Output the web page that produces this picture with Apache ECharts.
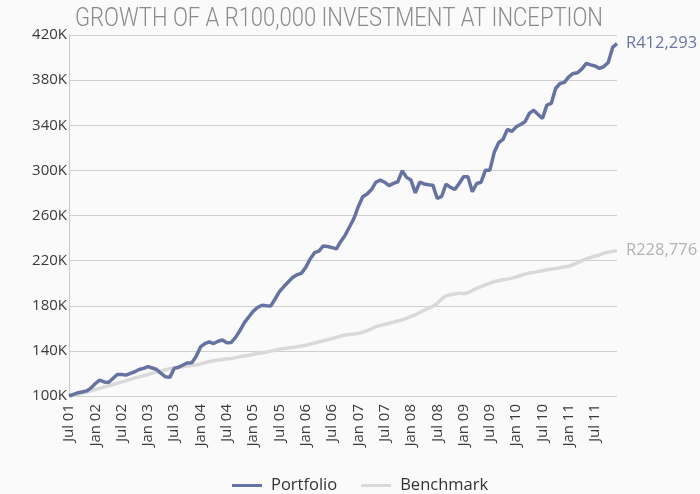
<!DOCTYPE html>
<html>
<head>
<meta charset="utf-8">
<script src="https://cdn.jsdelivr.net/npm/echarts@6/dist/echarts.min.js"></script>
<style>
  html, body { margin: 0; padding: 0; background: #fafafa; }
  #chart { width: 700px; height: 494px; }
</style>
</head>
<body>
<div id="chart"></div>
<script>
// Monthly values of a R100,000 investment, in thousands of Rand (Jul 2001 - Dec 2011)
const startYear = 2001;
const startMonth = 6; // July (0-based)
const monthNames = ['Jan', 'Feb', 'Mar', 'Apr', 'May', 'Jun', 'Jul', 'Aug', 'Sep', 'Oct', 'Nov', 'Dec'];

const portfolio = [
  100, 101.5, 102.8, 103.5, 104.5, 107, 111, 114, 112.5, 112,
  115.5, 119, 119, 118.5, 120, 121.5, 123.5, 124.5, 126, 124.8,
  123.5, 120, 117, 116.5, 124.5, 125.5, 127.5, 129.3, 129.5, 135,
  143.5, 146.5, 148, 146.5, 148.5, 149.6, 147.2, 147.5, 152, 158,
  165, 170, 175, 178.5, 180.5, 180, 179.7, 186, 192.5, 197,
  201, 205, 207.5, 208.7, 214, 221.5, 227, 228.5, 233, 232.5,
  231.5, 230.5, 237, 242.6, 250, 257.4, 268, 276.6, 279, 283,
  289.5, 291.4, 289.5, 286.5, 288.5, 289.9, 299.6, 293.8, 291.4, 280.1,
  289.5, 288, 287.2, 286.9, 275.1, 277, 287.8, 285, 283.1, 288.4,
  294.3, 294.3, 281, 288.4, 289.5, 300.2, 300.2, 316, 324.5, 327.4,
  336.3, 334.5, 338.6, 340.7, 343, 350.5, 353.4, 349.6, 346, 357.8,
  359.3, 372.6, 377, 378, 382.9, 385.9, 386.5, 390, 394.8, 393.5,
  392.5, 390.4, 392, 395.7, 409, 412.293
];

const benchmark = [
  100, 100.6, 101.5, 102.5, 103.5, 104.5, 105.8, 106.8, 108, 109,
  110.2, 111.3, 112.5, 113.5, 114.8, 116, 117, 118, 119, 120.3,
  121.2, 122.2, 123.3, 124.2, 125, 125.5, 126, 126.6, 127, 127.5,
  128.5, 129.5, 130.5, 131.2, 131.8, 132.4, 133, 133.3, 134, 134.8,
  135.5, 136.2, 137, 137.7, 138.4, 139, 139.8, 140.6, 141.4, 142,
  142.5, 143, 143.7, 144.3, 145, 146, 147, 148, 149, 150,
  151, 152, 153.2, 154, 154.6, 155, 155.5, 156.5, 158, 159.5,
  161.5, 162.5, 163.5, 164.5, 165.5, 166.5, 167.5, 168.8, 170.5, 172,
  174, 176, 178, 179.5, 182, 186, 188.8, 189.8, 190.5, 191.2,
  190.6, 191.5, 193.5, 195.6, 197, 198.5, 200, 201.5, 202.2, 203,
  203.6, 204.5, 205.5, 206.8, 208, 209, 209.6, 210.3, 211, 212,
  212.6, 213, 213.6, 214.3, 215, 216.5, 218, 220, 221.5, 222.8,
  224, 225, 226.5, 227.5, 228.2, 228.776
];

const yTicks = [100, 140, 180, 220, 260, 300, 340, 380, 420];

// Month labels such as "Jul 01"
const categories = portfolio.map((_, i) => {
  const m = (startMonth + i) % 12;
  const y = startYear + Math.floor((startMonth + i) / 12);
  return monthNames[m] + ' ' + String(y % 100).padStart(2, '0');
});

const titleText = 'GROWTH OF A R100,000 INVESTMENT AT INCEPTION';
const titleFont = '300 25px Roboto, sans-serif';
const titleWidth = 528;

const portfolioColor = '#6673a1';
const benchmarkColor = '#d9d9d9';
const uiFont = "'Open Sans', 'Noto Sans', sans-serif";

const fmtRand = v => 'R' + Math.round(v * 1000).toLocaleString('en-US');

// Condense the title horizontally so it spans the plot width
const measureCtx = document.createElement('canvas').getContext('2d');
measureCtx.font = titleFont;
const titleScaleX = titleWidth / measureCtx.measureText(titleText).width;

const chart = echarts.init(document.getElementById('chart'), null, { renderer: 'canvas' });

chart.setOption({
  backgroundColor: '#fafafa',
  animation: false,
  graphic: [{
    type: 'text',
    x: 75,
    y: 7,
    scaleX: titleScaleX,
    style: {
      text: titleText,
      font: titleFont,
      fill: '#8a8a8a',
      textAlign: 'left',
      textVerticalAlign: 'top'
    }
  }],
  legend: {
    bottom: -5,
    left: 227,
    itemGap: 24,
    itemWidth: 30,
    itemHeight: 3,
    icon: 'rect',
    textStyle: { fontFamily: uiFont, fontSize: 16.5, color: '#333', padding: [0, 0, 0, 4] },
    data: ['Portfolio', 'Benchmark']
  },
  grid: { left: 69, right: 83, top: 35, bottom: 98 },
  xAxis: {
    type: 'category',
    data: categories,
    boundaryGap: false,
    axisLine: { show: false },
    axisTick: { show: false },
    axisLabel: {
      rotate: 90,
      margin: 8,
      interval: idx => idx % 6 === 0,
      fontFamily: uiFont,
      fontSize: 15,
      color: '#3a3a3a'
    },
    splitLine: { show: false }
  },
  yAxis: {
    type: 'value',
    min: 100,
    max: 420,
    axisLine: { show: true, lineStyle: { color: '#c8c8c8', width: 1 } },
    axisTick: { show: false, customValues: yTicks },
    axisLabel: {
      customValues: yTicks,
      margin: 2,
      fontFamily: uiFont,
      fontSize: 15,
      color: '#3a3a3a',
      formatter: v => v + 'K'
    },
    splitLine: { show: true, lineStyle: { color: '#cfcfcf', width: 1 } }
  },
  series: [
    {
      name: 'Benchmark',
      type: 'line',
      data: benchmark,
      showSymbol: false,
      symbol: 'none',
      lineStyle: { color: benchmarkColor, width: 3.5 },
      itemStyle: { color: benchmarkColor },
      endLabel: {
        show: true,
        distance: 9,
        formatter: p => fmtRand(p.value),
        fontFamily: uiFont,
        fontSize: 16.5,
        color: '#b3b3b3'
      },
      z: 2
    },
    {
      name: 'Portfolio',
      type: 'line',
      data: portfolio,
      showSymbol: false,
      symbol: 'none',
      lineStyle: { color: portfolioColor, width: 3.5 },
      itemStyle: { color: portfolioColor },
      endLabel: {
        show: true,
        distance: 9,
        formatter: p => fmtRand(p.value),
        fontFamily: uiFont,
        fontSize: 16.5,
        color: '#6a76a2'
      },
      z: 3
    }
  ]
});
</script>
</body>
</html>
